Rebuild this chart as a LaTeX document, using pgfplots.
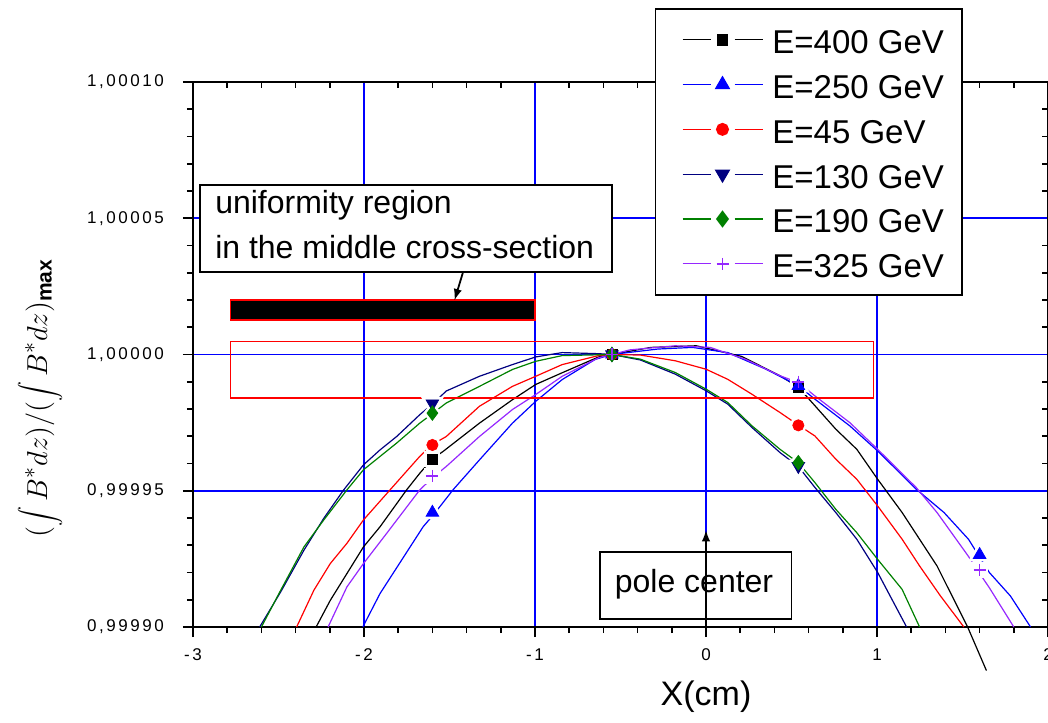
\documentclass[border=0pt]{standalone}
\usepackage{fontspec}
\setmainfont{Liberation Sans}
\newfontfamily\tickfont[LetterSpace=15]{Liberation Sans}
\usepackage{pgfplots}
\pgfplotsset{compat=1.18}
\definecolor{navy}{RGB}{0,0,128}
\definecolor{dgreen}{RGB}{0,128,0}
\definecolor{violet2}{RGB}{150,40,255}
\pgfplotsset{
  curve/.style={line width=0.6pt, forget plot},
  halo/.style={white, only marks, line width=3pt, forget plot},
  pts/.style={only marks, forget plot},
}

\begin{document}
\begin{tikzpicture}
% inward ticks on top and right (drawn first so the legend covers them)
\begin{axis}[
  scale only axis, width=427.5pt, height=272.5pt,
  xmin=-3, xmax=2, ymin=-10, ymax=10,
  xtick={-3,-2,-1,0,1,2}, ytick={-10,-5,0,5,10},
  xticklabels={}, yticklabels={},
  minor x tick num=4, minor y tick num=4,
  xtick pos=right, ytick pos=right, tick align=inside,
  major tick length=5pt, minor tick length=3pt,
  tick style={black, line width=0.8pt},
  axis line style={draw=none},
]
\end{axis}

% y is plotted as the deviation from 1 in units of 1e-5
\begin{axis}[
  scale only axis, width=427.5pt, height=272.5pt,
  xmin=-3, xmax=2, ymin=-10, ymax=10,
  clip=false,
  xtick={-3,-2,-1,0,1,2}, xticklabels={-3,-2,-1,0,1,2},
  ytick={-10,-5,0,5,10},
  yticklabels={{0,99990},{0,99995},{1,00000},{1,00005},{1,00010}},
  minor x tick num=4, minor y tick num=4,
  xtick pos=left, ytick pos=left, tick align=outside,
  major tick length=5pt, minor tick length=3pt,
  tick style={black, line width=0.8pt},
  axis line style={line width=0.9pt},
  grid=major, major grid style={blue, line width=0.8pt},
  ticklabel style={font=\tickfont\fontsize{8.5}{9}\selectfont},
  xticklabel style={yshift=-2.5pt},
  yticklabel style={xshift=-6pt},
  xlabel={X(cm)},
  xlabel style={font=\fontsize{17}{20}\selectfont, at={(axis description cs:0.6,-0.128)}, anchor=center},
  legend style={at={(0.54,1.136)}, anchor=north west, draw=black, line width=0.9pt,
    font=\fontsize{16.5}{19}\selectfont, inner xsep=7pt, inner ysep=6pt,
    nodes={text height=14.5pt, text depth=0.5pt, inner sep=2pt}, row sep=3.4pt,
    cells={anchor=west}},
  legend image code/.code={
    \path (0pt,0pt) (48.5pt,0pt);
    \draw[#1, mark=none, line width=0.6pt] (6pt,0pt) -- (20pt,0pt);
    \draw[#1, mark=none, line width=0.6pt] (32pt,0pt) -- (46pt,0pt);
    \draw[#1, only marks] plot coordinates {(26pt,0pt)};
  },
]
\addlegendimage{black, mark=square*, mark size=2.5pt}
\addlegendentry{E=400 GeV}
\addlegendimage{blue, mark=triangle*, mark size=3.6pt}
\addlegendentry{E=250 GeV}
\addlegendimage{red, mark=*, mark size=2.8pt}
\addlegendentry{E=45 GeV}
\addlegendimage{navy, mark=triangle*, mark size=3.6pt, mark options={rotate=180}}
\addlegendentry{E=130 GeV}
\addlegendimage{dgreen, mark=diamond*, mark size=3.6pt}
\addlegendentry{E=190 GeV}
\addlegendimage{violet2, mark=+, mark size=3pt}
\addlegendentry{E=325 GeV}

% ---- curves ----
% E=400 GeV
\addplot[black, curve] coordinates {
(-2.28,-10) (-2.197,-9.02) (-2.100,-8.04) (-2.003,-7.06) (-1.906,-6.32) (-1.751,-4.97)
(-1.674,-4.36) (-1.602,-3.84) (-1.538,-3.56) (-1.325,-2.52) (-1.132,-1.66) (-0.996,-1.10)
(-0.841,-0.67) (-0.628,-0.09) (-0.551,0) (-0.322,0.26) (-0.057,0.32) (0.208,-0.07)
(0.433,-0.78) (0.54,-1.2) (0.637,-1.88) (0.759,-2.74) (0.882,-3.48) (1.004,-4.58)
(1.147,-5.80) (1.351,-7.76) (1.53,-10) (1.64,-11.6)};
% E=250 GeV
\addplot[blue, curve] coordinates {
(-2.007,-10) (-1.906,-8.77) (-1.654,-6.32) (-1.587,-5.83) (-1.480,-4.97) (-1.325,-3.87)
(-1.132,-2.52) (-0.996,-1.72) (-0.841,-0.92) (-0.648,-0.18) (-0.551,0) (-0.282,0.20)
(-0.078,0.26) (0.127,0.07) (0.351,-0.54) (0.54,-1.15) (0.637,-1.64) (0.841,-2.62)
(1.004,-3.54) (1.229,-4.94) (1.392,-5.80) (1.535,-6.78) (1.596,-7.39) (1.657,-8.00)
(1.780,-8.86) (1.898,-10)};
% E=45 GeV
\addplot[red, curve] coordinates {
(-2.394,-10) (-2.293,-8.65) (-2.197,-7.67) (-2.100,-6.93) (-2.003,-6.07) (-1.848,-4.97)
(-1.674,-3.74) (-1.602,-3.31) (-1.519,-3.01) (-1.325,-1.90) (-1.132,-1.17) (-0.996,-0.80)
(-0.841,-0.37) (-0.628,-0.04) (-0.551,0) (-0.384,-0.02) (-0.180,-0.23) (0,-0.54)
(0.127,-0.91) (0.269,-1.46) (0.433,-2.13) (0.54,-2.59) (0.637,-2.99) (0.759,-3.84)
(0.882,-4.58) (1.004,-5.56) (1.147,-6.78) (1.249,-7.76) (1.371,-8.86) (1.508,-10)};
% E=130 GeV
\addplot[navy, curve] coordinates {
(-2.61,-10) (-2.487,-8.71) (-2.351,-7.18) (-2.235,-6.01) (-2.119,-4.97) (-2.003,-4.05)
(-1.906,-3.50) (-1.809,-3.01) (-1.674,-2.21) (-1.596,-1.80) (-1.519,-1.34) (-1.325,-0.80)
(-1.132,-0.37) (-0.996,-0.09) (-0.841,0.07) (-0.628,0.03) (-0.551,0) (-0.384,-0.20)
(-0.180,-0.72) (0,-1.33) (0.127,-1.82) (0.269,-2.68) (0.433,-3.60) (0.54,-4.11)
(0.637,-4.88) (0.759,-5.80) (0.882,-6.78) (1.004,-8.00) (1.173,-10)};
% E=190 GeV
\addplot[dgreen, curve] coordinates {
(-2.60,-10) (-2.487,-8.65) (-2.351,-7.06) (-2.235,-6.07) (-2.100,-4.97) (-2.003,-4.23)
(-1.809,-3.25) (-1.674,-2.52) (-1.596,-2.15) (-1.519,-1.78) (-1.325,-1.17) (-1.132,-0.55)
(-0.996,-0.25) (-0.841,-0.04) (-0.551,0) (-0.384,-0.17) (-0.180,-0.66) (0,-1.27)
(0.127,-1.76) (0.269,-2.62) (0.433,-3.48) (0.54,-3.97) (0.637,-4.70) (0.759,-5.68)
(0.882,-6.54) (1.004,-7.52) (1.147,-8.62) (1.249,-10)};
% E=325 GeV
\addplot[violet2, curve] coordinates {
(-2.210,-10) (-2.100,-8.53) (-2.003,-7.67) (-1.867,-6.56) (-1.674,-4.97) (-1.596,-4.50)
(-1.519,-4.11) (-1.325,-3.01) (-1.132,-2.02) (-0.996,-1.47) (-0.841,-0.80) (-0.628,-0.12)
(-0.551,0) (-0.445,0.17) (-0.180,0.32) (0.024,0.26) (0.229,-0.17) (0.433,-0.78)
(0.54,-1.03) (0.637,-1.52) (0.841,-2.50) (1.004,-3.48) (1.229,-4.88) (1.351,-5.80)
(1.535,-7.41) (1.592,-7.96) (1.657,-8.56) (1.800,-10)};

% ---- white gaps round the symbols ----
\addplot[halo, mark=square*, mark size=2.5pt] coordinates {(-1.6,-3.84) (0.54,-1.2)};
\addplot[halo, mark=triangle*, mark size=3.6pt] coordinates {(-1.6,-5.8) (0.54,-1.15) (1.6,-7.35)};
\addplot[halo, mark=*, mark size=2.8pt] coordinates {(-1.6,-3.32) (0.54,-2.6)};
\addplot[halo, mark=triangle*, mark size=3.6pt, mark options={rotate=180}] coordinates {(-1.6,-1.8) (0.54,-4.1)};
\addplot[halo, mark=diamond*, mark size=3.6pt] coordinates {(-1.6,-2.15) (0.54,-3.97)};
\addplot[halo, mark=square*, mark size=2.6pt] coordinates {(-1.6,-4.45) (0.54,-1.0) (1.6,-7.9)};

% ---- symbols ----
\addplot[black, pts, mark=square*, mark size=2.5pt] coordinates {
(-1.6,-3.84) (-0.55,0) (0.54,-1.2)};
\addplot[blue, pts, mark=triangle*, mark size=3.6pt] coordinates {
(-1.6,-5.8) (-0.55,0) (0.54,-1.15) (1.6,-7.35)};
\addplot[red, pts, mark=*, mark size=2.8pt] coordinates {
(-1.6,-3.32) (-0.55,0) (0.54,-2.6)};
\addplot[navy, pts, mark=triangle*, mark size=3.6pt, mark options={rotate=180}] coordinates {
(-1.6,-1.8) (-0.55,0) (0.54,-4.1)};
\addplot[dgreen, pts, mark=diamond*, mark size=3.6pt] coordinates {
(-1.6,-2.15) (-0.55,0) (0.54,-3.97)};
\addplot[violet2, pts, mark=+, mark size=3pt, line width=0.8pt] coordinates {
(-1.6,-4.45) (-0.55,0) (0.54,-1.0) (1.6,-7.9)};

% ---- annotations ----
\draw[red, line width=0.7pt] (axis cs:-2.78,-1.6) rectangle (axis cs:0.98,0.48);
\draw[red, fill=black, line width=0.7pt] (axis cs:-2.78,1.26) rectangle (axis cs:-1.0,2.0);
\draw[black, fill=white, line width=0.9pt] (axis cs:-2.96,3.04) rectangle (axis cs:-0.55,6.23);
\node[anchor=west, align=left, inner sep=0pt, font=\fontsize{16}{22.5}\selectfont]
  at (axis cs:-2.872,4.75) {uniformity region\\in the middle cross-section};
\draw[-latex, line width=0.9pt] (axis cs:-1.42,3.04) -- (axis cs:-1.47,2.0);
\draw[black, fill=white, line width=0.9pt] (axis cs:-0.62,-7.25) rectangle (axis cs:0.50,-9.71);
\node[font=\fontsize{16}{19}\selectfont] at (axis cs:-0.07,-8.42) {pole center};
\draw[-latex, line width=0.9pt] (axis cs:0,-10.3) -- (axis cs:0,-6.45);

\coordinate (SW) at (rel axis cs:0,0);
\coordinate (NE) at (rel axis cs:1,1);
\end{axis}

% y axis title, centred 76.5pt left of and 114.5pt above the lower left corner
\node[rotate=90, anchor=center, inner sep=0pt, font=\fontsize{15}{18}\selectfont]
  at ([xshift=-76.5pt, yshift=114.5pt]SW) {$\displaystyle(\int B^{*} dz)/(\int B^{*} dz)_{\mathbf{max}}$};

\pgfresetboundingbox
\path[use as bounding box] ([xshift=-96.5pt,yshift=-47.5pt]SW) rectangle ([yshift=41pt]NE);
\end{tikzpicture}
\end{document}
